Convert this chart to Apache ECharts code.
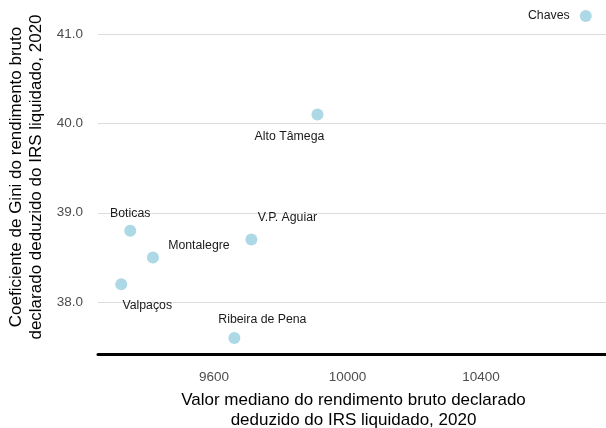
<!DOCTYPE html>
<html>
<head>
<meta charset="utf-8">
<script src="https://cdn.jsdelivr.net/npm/echarts@6/dist/echarts.min.js"></script>
<style>html,body{margin:0;padding:0;background:#fff}#c{width:606px;height:428px}</style>
</head>
<body>
<div id="c"></div>
<script>
const names = ['Chaves', 'Alto Tâmega', 'Boticas', 'V.P. Aguiar', 'Montalegre', 'Valpaços', 'Ribeira de Pena'];
const medianIncome = [10714, 9910, 9349, 9712, 9417, 9322, 9661];
const gini = [41.2, 40.1, 38.8, 38.7, 38.5, 38.2, 37.6];
const xTicks = [9600, 10000, 10400];
const yTicks = [38, 39, 40, 41];

// label placement (pixel offsets from point centre), kept apart from data
const labelOffsets = {
  'Chaves': [-37, 0],
  'Alto Tâmega': [-28, 22],
  'Boticas': [0, -17],
  'V.P. Aguiar': [36, -22],
  'Montalegre': [46, -12],
  'Valpaços': [26, 21],
  'Ribeira de Pena': [28, -18]
};

function expand(arr, f) {
  const mn = Math.min(...arr), mx = Math.max(...arr), r = mx - mn;
  return [mn - r * f, mx + r * f];
}
const xr = expand(medianIncome, 0.05);
const yr = expand(gini, 0.05);

const font = 'Liberation Sans, Arial, sans-serif';
const data = names.map((n, i) => ({
  name: n,
  value: [medianIncome[i], gini[i]],
  label: { offset: labelOffsets[n] }
}));

const chart = echarts.init(document.getElementById('c'));
chart.setOption({
  animation: false,
  grid: { left: 98, right: -3, top: 0, bottom: 74, outerBoundsMode: 'none', containLabel: false },
  xAxis: {
    type: 'value', min: xr[0], max: xr[1],
    name: 'Valor mediano do rendimento bruto declarado\ndeduzido do IRS liquidado, 2020',
    nameLocation: 'middle', nameGap: 36,
    nameTextStyle: { fontFamily: font, fontSize: 17, color: '#000', lineHeight: 20 },
    axisLine: { show: true, onZero: false, lineStyle: { color: '#000', width: 3 } },
    axisTick: { show: false },
    splitLine: { show: false },
    axisLabel: { customValues: xTicks, formatter: v => String(v), fontFamily: font, fontSize: 13.5, color: '#4d4d4d', margin: 16 }
  },
  yAxis: {
    type: 'value', min: yr[0], max: yr[1], splitNumber: 4,
    name: 'Coeficiente de Gini do rendimento bruto\ndeclarado deduzido do IRS liquidado, 2020',
    nameLocation: 'middle', nameGap: 48, nameRotate: 90,
    nameTextStyle: { fontFamily: font, fontSize: 17, color: '#000', lineHeight: 20 },
    axisLine: { show: false },
    axisTick: { show: false },
    splitLine: { show: true, showMinLine: false, showMaxLine: false, lineStyle: { color: '#dcdcdc', width: 1 } },
    axisLabel: { customValues: yTicks, formatter: v => v.toFixed(1), fontFamily: font, fontSize: 13.5, color: '#4d4d4d', margin: 15 }
  },
  series: [{
    type: 'scatter',
    symbolSize: 12,
    itemStyle: { color: '#add8e6', opacity: 1 },
    label: {
      show: true, position: 'inside', formatter: p => p.name,
      fontFamily: font, fontSize: 12.3, color: '#1a1a1a'
    },
    data: data
  }]
});
</script>
</body>
</html>
